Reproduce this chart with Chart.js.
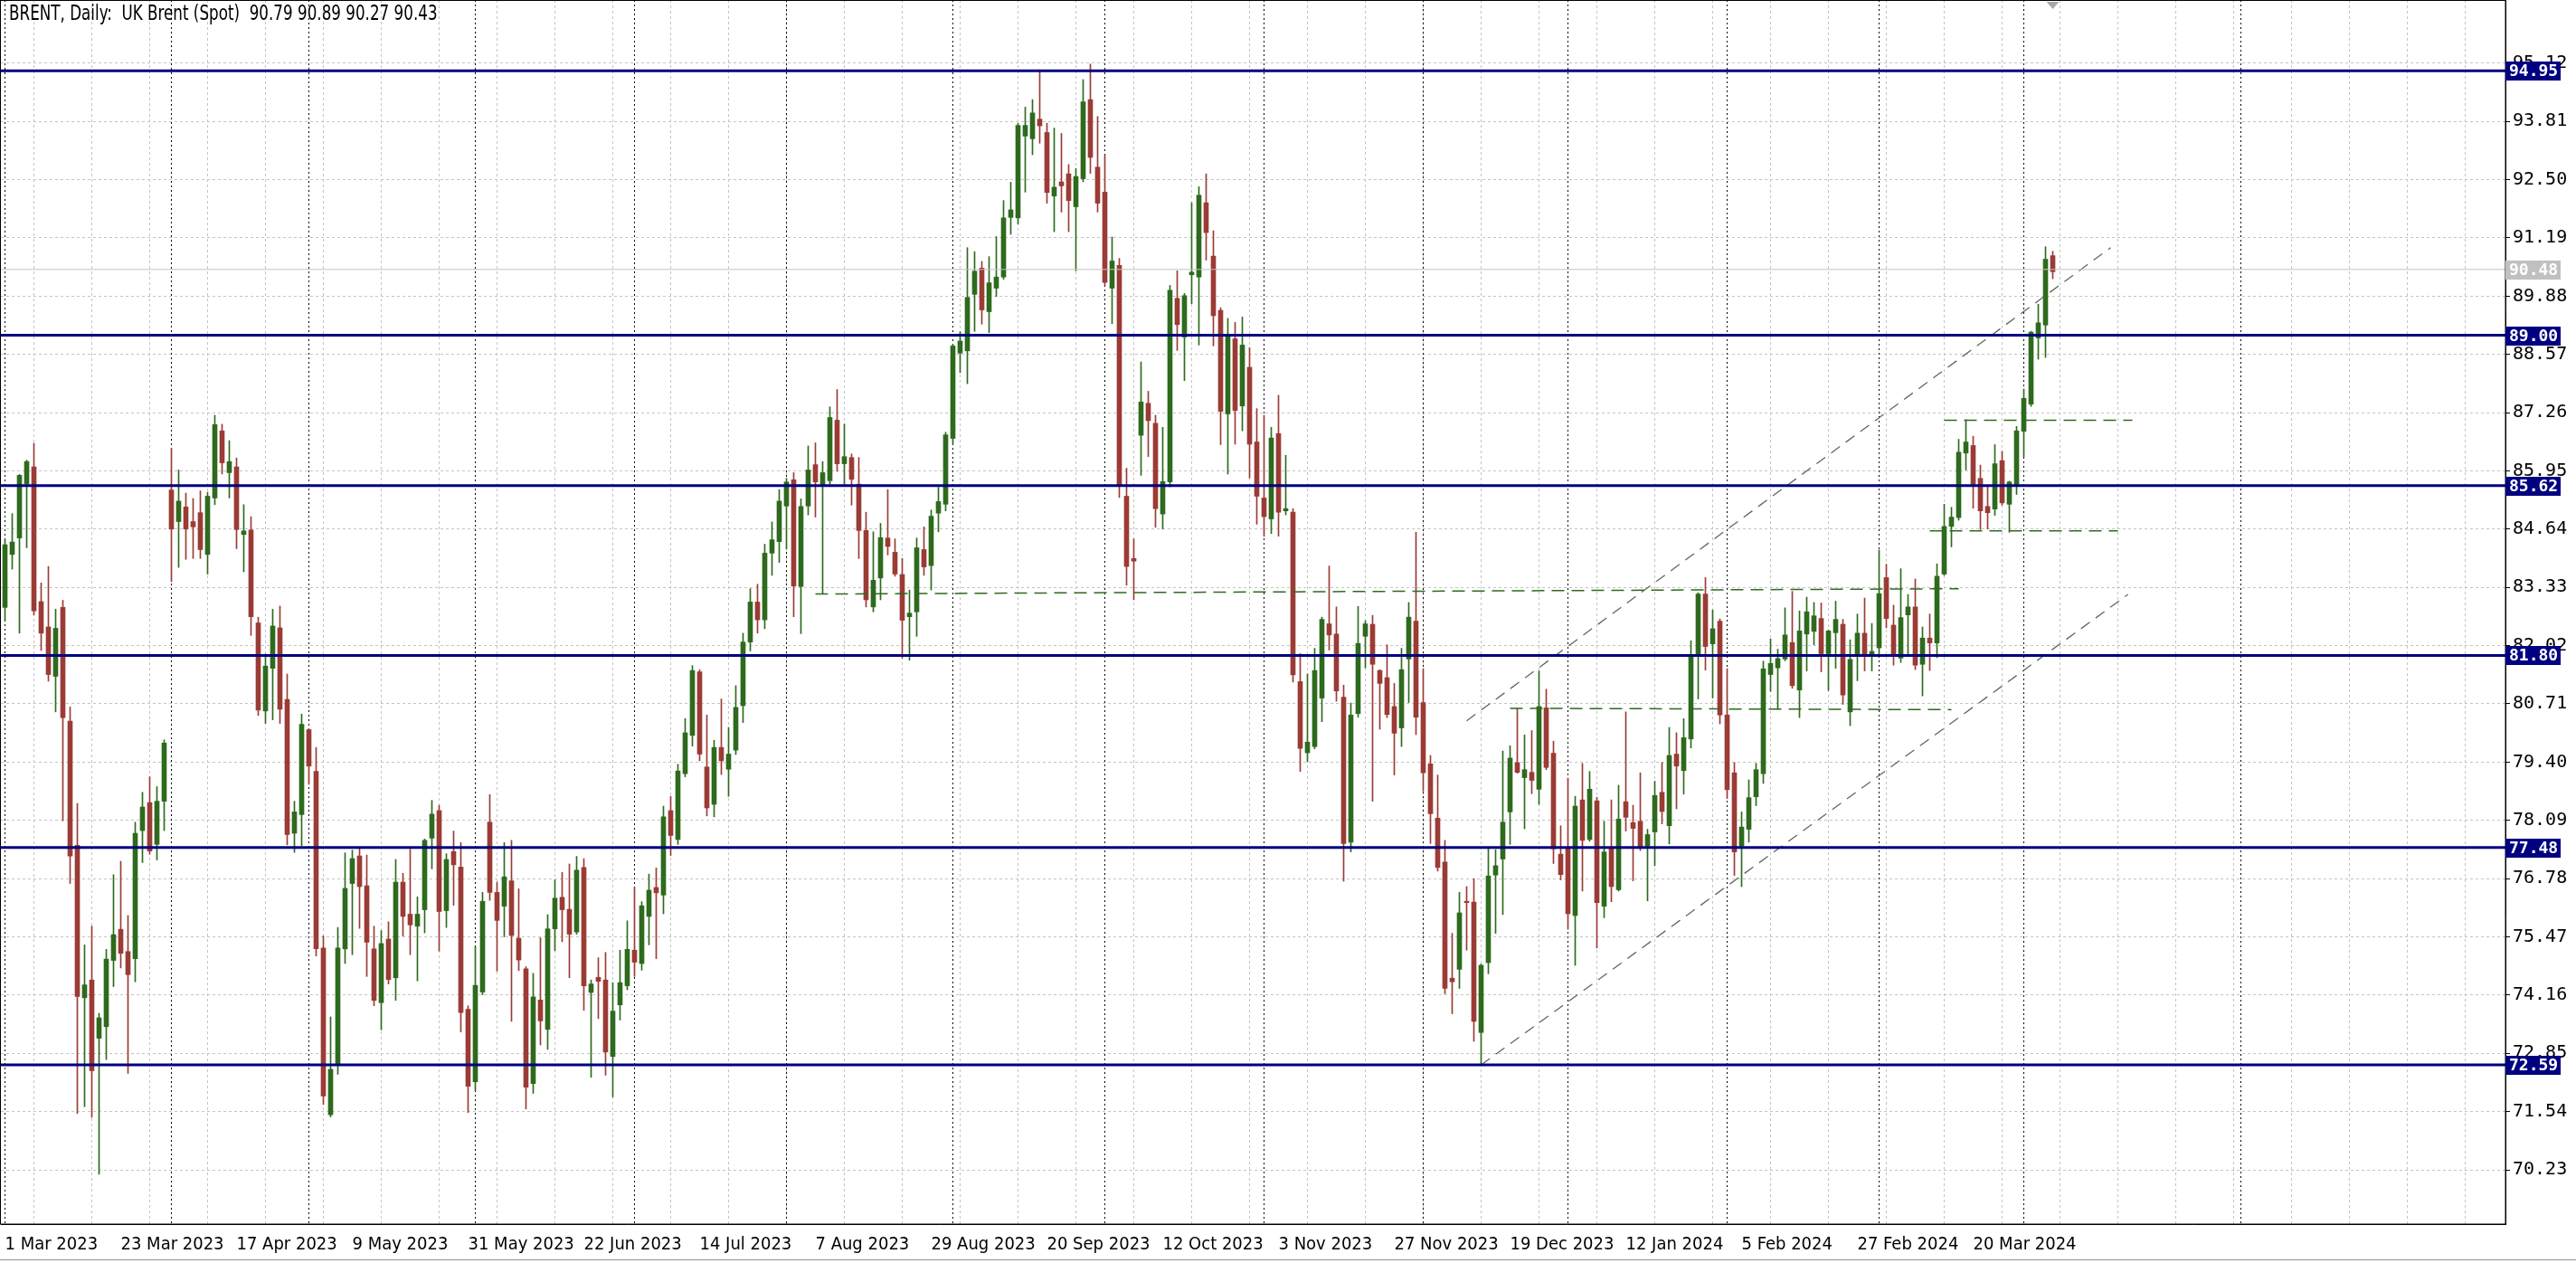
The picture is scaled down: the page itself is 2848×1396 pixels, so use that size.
<!DOCTYPE html>
<html>
<head>
<meta charset="utf-8">
<title>BRENT, Daily</title>
<script src="https://cdn.jsdelivr.net/npm/chart.js@4.4.1/dist/chart.umd.min.js"></script>
<style>
  html, body { margin: 0; padding: 0; background: #fff; }
  #wrap { width: 2848px; height: 1396px; position: relative; }
</style>
</head>
<body>
<div id="wrap"><canvas id="brentChart"></canvas></div>
<script>
// price scale labels as the terminal prints them
const priceTicks = [70.23, 71.54, 72.85, 74.16, 75.47, 76.78, 78.09, 79.40, 80.71, 82.02,
                    83.33, 84.64, 85.95, 87.26, 88.57, 89.88, 91.19, 92.50, 93.81, 95.12];
// one date label every 16 bars, starting at bar 0
const dateTicks = ['1 Mar 2023', '23 Mar 2023', '17 Apr 2023', '9 May 2023', '31 May 2023', '22 Jun 2023',
                   '14 Jul 2023', '7 Aug 2023', '29 Aug 2023', '20 Sep 2023', '12 Oct 2023', '3 Nov 2023',
                   '27 Nov 2023', '19 Dec 2023', '12 Jan 2024', '5 Feb 2024', '27 Feb 2024', '20 Mar 2024'];
// bar index of the first session of each month (period separators)
const monthStarts = [0, 23, 42, 65, 87, 108, 131, 152, 174, 196, 216, 238, 259, 279, 309];

// daily OHLC, 1 Mar 2023 .. 5 Apr 2024
const opens = [
  82.88, 84.07, 84.44, 85.66, 86.04, 83.01, 82.44, 81.33, 82.88, 80.32,
  77.53, 74.10, 74.50, 73.19, 73.45, 74.94, 75.64, 75.14, 74.98, 77.86,
  78.49, 77.55, 78.52, 85.52, 84.81, 85.14, 84.81, 85.01, 84.07, 85.34,
  86.85, 85.91, 86.04, 84.52, 84.62, 82.53, 80.55, 81.51, 82.42, 80.81,
  77.80, 78.22, 80.13, 79.19, 75.22, 71.47, 72.61, 75.20, 76.67, 77.29,
  76.62, 75.20, 73.99, 75.42, 74.55, 76.70, 75.98, 75.71, 76.08, 77.69,
  78.31, 76.06, 77.39, 77.04, 73.84, 72.21, 74.23, 78.05, 76.47, 76.16,
  76.73, 75.44, 74.75, 72.17, 74.05, 73.39, 75.65, 76.36, 76.09, 75.58,
  77.03, 74.22, 74.56, 74.50, 72.78, 73.94, 74.37, 75.17, 74.87, 75.93,
  76.58, 76.41, 78.31, 77.66, 79.14, 80.00, 81.43, 79.29, 78.45, 79.73,
  79.24, 79.67, 80.67, 82.10, 83.00, 82.60, 84.10, 84.36, 85.16, 85.75,
  83.35, 85.16, 86.09, 85.64, 85.73, 87.09, 86.11, 86.25, 85.65, 84.61,
  82.89, 83.54, 84.44, 84.12, 83.62, 82.67, 82.78, 84.18, 83.82, 85.00,
  85.20, 86.68, 88.60, 88.65, 89.92, 90.51, 89.53, 90.06, 90.31, 91.65,
  91.64, 93.48, 93.42, 93.86, 93.56, 92.13, 92.45, 92.63, 91.89, 92.52,
  94.30, 92.78, 92.22, 90.06, 90.57, 85.38, 83.98, 86.75, 87.47, 87.02,
  84.98, 85.70, 89.83, 88.96, 90.36, 90.31, 91.98, 90.78, 89.56, 87.23,
  88.92, 87.41, 88.28, 86.60, 85.34, 84.87, 86.79, 85.05, 85.02, 81.21,
  79.61, 79.75, 80.84, 82.51, 82.28, 80.86, 77.60, 80.49, 82.23, 82.50,
  81.46, 81.30, 80.65, 80.17, 81.72, 82.57, 80.74, 79.36, 78.14, 77.15,
  74.54, 74.74, 76.27, 76.25, 73.32, 74.89, 76.86, 77.22, 78.28, 79.39,
  79.05, 79.17, 78.79, 80.62, 79.60, 77.33, 77.48, 75.95, 78.55, 77.66,
  78.53, 76.16, 77.46, 76.53, 78.51, 78.04, 78.07, 77.51, 77.83, 78.72,
  77.97, 79.58, 79.21, 79.92, 81.82, 83.18, 82.06, 82.57, 80.46, 79.16,
  77.51, 77.89, 78.62, 79.14, 81.37, 81.52, 81.72, 82.09, 81.02, 82.28,
  82.34, 82.63, 81.84, 82.31, 82.50, 80.53, 81.83, 82.30, 81.83, 81.97,
  83.55, 82.48, 81.74, 82.71, 82.89, 81.60, 82.19, 82.08, 83.63, 84.70,
  84.90, 86.35, 86.52, 85.78, 85.15, 85.09, 86.18, 85.20, 85.62, 86.84,
  87.45, 88.94, 89.23, 90.79
];
const highs = [
  84.40, 84.99, 85.87, 86.19, 86.57, 83.43, 83.80, 82.84, 83.04, 80.64,
  78.47, 75.29, 75.71, 73.75, 75.19, 76.87, 77.17, 75.95, 78.05, 78.72,
  79.07, 78.85, 79.90, 86.46, 85.97, 85.45, 85.33, 85.50, 85.47, 87.20,
  87.00, 86.63, 86.24, 85.19, 84.92, 82.66, 81.83, 82.84, 82.91, 81.38,
  78.52, 80.48, 80.15, 79.73, 75.49, 73.67, 75.68, 77.36, 77.42, 77.46,
  77.31, 75.71, 75.61, 75.81, 77.21, 76.90, 77.44, 76.37, 77.67, 78.54,
  78.43, 77.34, 77.85, 77.59, 73.92, 75.25, 76.47, 78.67, 76.70, 77.59,
  77.64, 76.55, 74.80, 74.65, 75.45, 75.97, 76.75, 76.92, 77.11, 77.28,
  77.23, 74.50, 75.00, 75.12, 74.44, 75.17, 75.83, 76.58, 76.26, 76.88,
  77.02, 78.41, 78.63, 79.35, 80.38, 81.57, 81.48, 80.46, 79.89, 80.82,
  80.18, 81.12, 82.30, 83.30, 83.40, 84.30, 84.80, 85.53, 85.78, 85.91,
  85.32, 86.51, 86.58, 86.16, 87.39, 87.78, 87.00, 86.33, 86.25, 85.02,
  84.58, 84.77, 85.53, 84.42, 83.98, 83.27, 84.44, 84.69, 85.07, 85.58,
  86.82, 88.80, 89.08, 90.97, 90.88, 90.66, 90.77, 91.22, 92.03, 92.44,
  93.77, 94.13, 94.30, 94.97, 93.77, 93.66, 93.54, 92.84, 92.75, 94.75,
  95.10, 93.92, 93.05, 91.21, 90.73, 86.01, 84.42, 88.40, 87.74, 87.20,
  86.93, 90.12, 90.45, 89.94, 91.98, 92.34, 92.63, 91.35, 89.62, 89.38,
  89.29, 89.41, 88.72, 87.35, 87.20, 86.93, 87.65, 86.30, 85.10, 81.84,
  81.38, 81.96, 82.66, 83.81, 82.89, 81.13, 80.73, 82.90, 82.58, 82.70,
  81.48, 82.04, 81.17, 81.96, 82.99, 84.57, 81.50, 79.55, 79.11, 77.64,
  75.55, 76.47, 76.60, 76.78, 74.86, 77.46, 77.43, 79.65, 79.77, 80.61,
  80.01, 80.11, 81.45, 81.04, 79.87, 77.97, 79.04, 78.63, 79.37, 79.19,
  78.61, 78.07, 78.55, 78.88, 80.53, 78.43, 79.16, 77.89, 78.97, 79.39,
  80.18, 80.06, 80.38, 82.13, 83.21, 83.55, 82.82, 82.62, 81.50, 79.39,
  78.28, 79.00, 79.37, 81.67, 82.17, 81.94, 82.87, 83.24, 82.80, 83.11,
  82.99, 82.98, 82.37, 83.02, 82.61, 82.15, 82.73, 83.09, 82.52, 84.17,
  83.85, 82.93, 83.75, 83.17, 83.52, 82.44, 82.73, 83.86, 85.20, 85.13,
  86.66, 87.10, 86.73, 86.08, 85.59, 86.54, 86.39, 85.72, 86.95, 87.79,
  89.09, 89.70, 90.99, 90.89
];
const lows = [
  82.60, 83.74, 82.30, 84.22, 82.71, 81.91, 81.22, 80.53, 78.08, 76.67,
  71.50, 71.65, 71.41, 70.13, 72.71, 74.35, 74.77, 72.40, 74.46, 77.14,
  77.33, 77.20, 77.86, 83.46, 83.78, 83.96, 83.98, 83.98, 83.63, 85.19,
  85.88, 85.34, 84.20, 83.68, 82.25, 80.45, 80.27, 80.35, 80.27, 77.54,
  77.37, 77.52, 78.90, 75.04, 71.70, 71.42, 72.38, 74.87, 75.07, 75.66,
  74.58, 73.92, 73.38, 74.41, 74.04, 75.49, 75.07, 74.48, 75.56, 77.00,
  75.15, 75.68, 76.18, 73.33, 71.52, 72.01, 74.17, 76.29, 74.70, 75.47,
  73.57, 74.71, 71.60, 71.95, 73.04, 72.94, 75.16, 75.36, 74.55, 75.53,
  73.82, 72.31, 73.63, 72.36, 71.87, 73.60, 74.28, 74.58, 74.72, 75.29,
  74.98, 75.99, 77.30, 77.55, 79.07, 79.76, 79.43, 78.19, 78.17, 79.12,
  78.63, 79.57, 80.29, 81.90, 82.30, 82.40, 83.60, 83.89, 84.20, 82.67,
  82.29, 84.96, 84.91, 83.18, 85.65, 85.94, 85.62, 85.18, 83.98, 82.89,
  82.78, 83.05, 84.06, 83.58, 81.74, 81.69, 82.23, 83.60, 83.27, 84.58,
  85.05, 86.55, 88.16, 87.91, 89.09, 89.25, 89.06, 89.87, 90.26, 91.27,
  91.50, 92.22, 93.06, 93.32, 91.97, 91.33, 91.77, 91.33, 90.45, 92.45,
  92.64, 91.77, 90.12, 89.26, 85.35, 83.38, 83.05, 85.85, 86.27, 84.68,
  84.64, 85.59, 88.66, 87.98, 89.71, 88.78, 90.69, 88.76, 86.54, 85.88,
  86.55, 86.85, 85.79, 84.75, 84.48, 84.54, 84.48, 84.96, 81.20, 79.19,
  79.41, 79.70, 80.31, 81.92, 80.77, 76.72, 77.38, 80.41, 81.52, 78.52,
  80.14, 80.40, 79.11, 79.75, 80.74, 80.02, 78.75, 77.57, 76.95, 74.19,
  73.74, 74.31, 75.17, 73.12, 72.59, 74.64, 75.55, 75.97, 77.55, 79.15,
  77.90, 78.69, 78.45, 79.23, 77.12, 76.75, 75.64, 74.83, 76.50, 77.62,
  75.22, 75.90, 76.26, 76.50, 77.85, 76.73, 77.41, 76.28, 77.07, 78.01,
  77.56, 78.35, 78.68, 79.72, 80.82, 81.47, 80.84, 80.26, 78.58, 76.85,
  76.60, 77.60, 78.42, 78.92, 80.99, 80.59, 81.68, 81.06, 80.40, 81.45,
  82.04, 81.43, 81.01, 81.51, 80.70, 80.22, 81.23, 81.45, 81.45, 81.77,
  82.42, 81.58, 81.64, 81.83, 81.48, 80.89, 81.46, 81.75, 83.60, 84.24,
  84.84, 85.97, 85.11, 84.63, 84.64, 84.95, 85.18, 84.57, 85.42, 86.27,
  87.40, 88.46, 88.50, 90.27
];
const closes = [
  84.29, 84.35, 85.85, 86.16, 82.80, 82.30, 81.37, 82.41, 80.40, 77.29,
  74.13, 74.39, 72.46, 73.65, 74.97, 75.52, 75.10, 74.62, 77.80, 78.39,
  77.40, 78.52, 79.83, 84.64, 85.27, 84.64, 84.69, 84.18, 85.38, 86.99,
  86.13, 86.16, 84.63, 84.60, 82.67, 80.57, 81.56, 82.46, 80.59, 77.77,
  78.28, 80.25, 79.31, 75.20, 71.89, 72.49, 75.22, 76.56, 77.23, 76.60,
  75.35, 74.04, 75.32, 74.51, 76.70, 75.93, 75.74, 75.98, 77.64, 78.23,
  76.04, 77.21, 77.09, 73.77, 72.11, 74.38, 76.27, 76.47, 75.84, 76.82,
  75.50, 74.95, 72.09, 74.12, 73.58, 75.65, 76.34, 76.08, 75.53, 76.97,
  74.37, 74.41, 74.47, 72.88, 73.80, 74.44, 75.19, 74.90, 76.17, 76.52,
  76.46, 78.17, 77.75, 79.20, 80.06, 81.46, 79.58, 78.37, 79.73, 79.43,
  79.58, 80.63, 82.10, 83.00, 82.60, 84.10, 84.40, 85.27, 85.70, 83.36,
  85.15, 85.97, 85.70, 85.91, 87.15, 86.11, 86.27, 85.76, 84.61, 83.05,
  83.49, 84.45, 84.25, 83.63, 82.59, 82.75, 84.22, 83.79, 84.93, 85.26,
  86.76, 88.76, 88.87, 89.85, 90.44, 89.57, 90.18, 90.31, 91.64, 91.82,
  93.72, 93.72, 94.00, 93.71, 92.21, 92.33, 92.36, 92.03, 92.57, 94.25,
  93.00, 91.97, 90.19, 90.67, 85.61, 83.80, 83.92, 87.50, 87.08, 85.10,
  85.71, 90.01, 89.24, 89.89, 90.42, 92.15, 91.31, 89.44, 87.29, 89.02,
  87.31, 88.78, 86.55, 85.38, 84.92, 86.69, 85.02, 85.10, 81.36, 79.71,
  79.85, 81.46, 82.61, 82.26, 81.00, 77.57, 80.46, 82.07, 82.51, 81.60,
  81.17, 80.47, 80.05, 81.48, 82.66, 80.41, 79.16, 78.24, 77.03, 74.31,
  74.46, 76.01, 76.24, 73.57, 74.83, 76.84, 77.07, 78.05, 79.49, 79.17,
  79.23, 78.99, 80.65, 79.28, 77.45, 76.87, 75.99, 78.41, 77.64, 78.79,
  76.24, 77.38, 76.60, 78.12, 78.16, 77.91, 77.50, 77.77, 78.65, 78.29,
  79.55, 79.31, 79.95, 81.79, 83.18, 82.00, 82.40, 80.46, 78.78, 77.38,
  77.94, 78.60, 79.23, 81.50, 81.62, 81.73, 82.26, 81.12, 82.35, 82.78,
  82.69, 81.84, 82.35, 82.61, 80.91, 81.71, 82.30, 81.83, 81.89, 83.19,
  82.63, 81.79, 82.65, 82.89, 81.58, 82.19, 82.08, 83.58, 84.70, 84.91,
  86.37, 86.60, 85.62, 85.05, 85.01, 86.11, 85.23, 85.70, 86.85, 87.58,
  89.07, 89.28, 90.71, 90.43
];

// horizontal support / resistance levels and the current bid
const levels = [94.95, 89.00, 85.62, 81.80, 77.48, 72.59];
const bidPrice = 90.48;

// drawn objects as [bar index, price] pairs
const channelTop = [[202, 80.33], [291, 90.97]];
const channelBottom = [[204, 72.59], [293.4, 83.17]];
const dashedLevels = [
  [[112, 83.18], [270, 83.30]],
  [[208, 80.61], [269, 80.58]],
  [[268, 87.09], [294, 87.09]],
  [[266, 84.60], [292, 84.60]]
];

const X_MIN = -0.5625;
const X_MAX = 345.5625;
const upColor = '#2e6a1e';
const downColor = '#9b3b35';
const navy = '#000080';
const narrowFont = '"Liberation Sans Narrow", "DejaVu Sans Condensed", "Liberation Sans", sans-serif';
const monoFont = '"DejaVu Sans Mono", "Liberation Mono", monospace';

const gridSteps = [];
for (let i = 0; i <= 344; i += 8) gridSteps.push(i);

const candleColors = opens.map((o, i) => closes[i] >= o ? upColor : downColor);

function pairsToPoints(pairs) {
  return pairs.map(p => ({ x: p[0], y: p[1] }));
}

function lineSet(points, color, width, dash) {
  return {
    type: 'line',
    data: points,
    borderColor: color,
    borderWidth: width,
    borderDash: dash,
    pointRadius: 0,
    fill: false,
    tension: 0,
    order: 0
  };
}

const datasets = [];
datasets.push({
  label: 'wicks',
  data: opens.map((o, i) => ({ x: i, y: [lows[i], highs[i]] })),
  backgroundColor: candleColors,
  barThickness: 1,
  grouped: false,
  order: 3
});
datasets.push({
  label: 'bodies',
  data: opens.map((o, i) => ({ x: i, y: [o, closes[i]] })),
  backgroundColor: candleColors,
  barThickness: 5,
  minBarLength: 1,
  grouped: false,
  order: 2
});
datasets.push(lineSet([{ x: X_MIN, y: bidPrice }, { x: X_MAX, y: bidPrice }], '#c0c0c0', 1, []));
levels.forEach(l => {
  datasets.push(lineSet([{ x: X_MIN, y: l }, { x: X_MAX, y: l }], navy, 3, []));
});
datasets.push(lineSet(pairsToPoints(channelTop), '#5b6b55', 1.3, [12, 8]));
datasets.push(lineSet(pairsToPoints(channelBottom), '#5b6b55', 1.3, [12, 8]));
dashedLevels.forEach(seg => {
  datasets.push(lineSet(pairsToPoints(seg), '#2e6a1e', 1.5, [14, 8]));
});

// terminal style extras: period separators, frame, header, price boxes
const terminalPlugin = {
  id: 'terminal',
  beforeDatasetsDraw(chart) {
    const { ctx, chartArea, scales } = chart;
    ctx.save();
    ctx.strokeStyle = '#000';
    ctx.lineWidth = 1;
    ctx.setLineDash([2, 3]);
    monthStarts.forEach(i => {
      const px = Math.floor(scales.x.getPixelForValue(i)) + 0.5;
      ctx.beginPath();
      ctx.moveTo(px, chartArea.top);
      ctx.lineTo(px, chartArea.bottom);
      ctx.stroke();
    });
    ctx.restore();
  },
  afterDraw(chart) {
    const { ctx, chartArea, scales } = chart;
    const last = opens.length - 1;
    ctx.save();
    ctx.strokeStyle = '#000';
    ctx.lineWidth = 1;
    ctx.strokeRect(0.5, 0.5, chartArea.right - 0.5, chartArea.bottom - 0.5);

    // header, condensed like the terminal font
    ctx.save();
    ctx.fillStyle = '#000';
    ctx.font = '23px ' + narrowFont;
    ctx.textBaseline = 'top';
    ctx.textAlign = 'left';
    ctx.translate(10, 5);
    ctx.scale(0.81, 1);
    ctx.fillText('BRENT, Daily:  UK Brent (Spot)  ' + opens[last].toFixed(2) + ' ' + highs[last].toFixed(2) + ' ' +
      lows[last].toFixed(2) + ' ' + closes[last].toFixed(2), 0, 0);
    ctx.restore();

    // chart shift marker above the last bar
    const mx = scales.x.getPixelForValue(last);
    ctx.fillStyle = '#a8a8a8';
    ctx.beginPath();
    ctx.moveTo(mx - 7, 2);
    ctx.lineTo(mx + 7, 2);
    ctx.lineTo(mx, 10);
    ctx.closePath();
    ctx.fill();

    ctx.font = 'bold 18px ' + monoFont;
    ctx.textBaseline = 'middle';
    ctx.textAlign = 'left';
    const box = (val, bg) => {
      const py = Math.round(scales.y.getPixelForValue(val));
      ctx.fillStyle = bg;
      ctx.fillRect(chartArea.right, py - 10, 61, 21);
      ctx.fillStyle = '#fff';
      ctx.fillText(val.toFixed(2), chartArea.right + 4, py + 1);
    };
    box(bidPrice, '#c0c0c0');
    levels.forEach(l => box(l, navy));

    ctx.strokeStyle = '#909090';
    ctx.beginPath();
    ctx.moveTo(0, 1392.5);
    ctx.lineTo(chart.width, 1392.5);
    ctx.stroke();
    ctx.restore();
  }
};

const ctx = document.getElementById('brentChart').getContext('2d');
const chart = new Chart(ctx, {
  type: 'bar',
  data: { datasets: datasets },
  plugins: [terminalPlugin],
  options: {
    responsive: true,
    maintainAspectRatio: false,
    devicePixelRatio: 1,
    animation: false,
    layout: { padding: { left: 1, top: 0, right: 0, bottom: 0 } },
    plugins: { legend: { display: false }, tooltip: { enabled: false } },
    scales: {
      x: {
        type: 'linear',
        position: 'bottom',
        offset: false,
        min: X_MIN,
        max: X_MAX,
        afterBuildTicks: (scale) => { scale.ticks = gridSteps.map(v => ({ value: v })); },
        afterFit: (scale) => {
          scale.height = 43;
          scale.paddingLeft = 0;
          scale.paddingRight = 0;
        },
        ticks: {
          autoSkip: false,
          maxRotation: 0,
          align: 'start',
          padding: 11,
          color: '#000',
          font: { family: narrowFont, size: 20 },
          callback: (v) => (v % 16 === 0 && dateTicks[v / 16]) ? dateTicks[v / 16] : ''
        },
        grid: { color: '#c4c4c4', lineWidth: 1, drawTicks: false },
        border: { display: true, color: '#000', width: 1, dash: [3, 3] }
      },
      y: {
        type: 'linear',
        position: 'right',
        min: 69.01,
        max: 96.54,
        afterBuildTicks: (scale) => { scale.ticks = priceTicks.map(v => ({ value: v })); },
        afterFit: (scale) => {
          scale.width = 78;
          scale.paddingTop = 0;
          scale.paddingBottom = 0;
        },
        ticks: {
          padding: 3,
          color: '#000',
          font: { family: monoFont, size: 20 },
          callback: (v) => Number(v).toFixed(2)
        },
        grid: { color: '#c4c4c4', lineWidth: 1, drawTicks: true, tickLength: 5, tickColor: '#000' },
        border: { display: true, color: '#000', width: 1, dash: [3, 3] }
      }
    }
  }
});
</script>
</body>
</html>
